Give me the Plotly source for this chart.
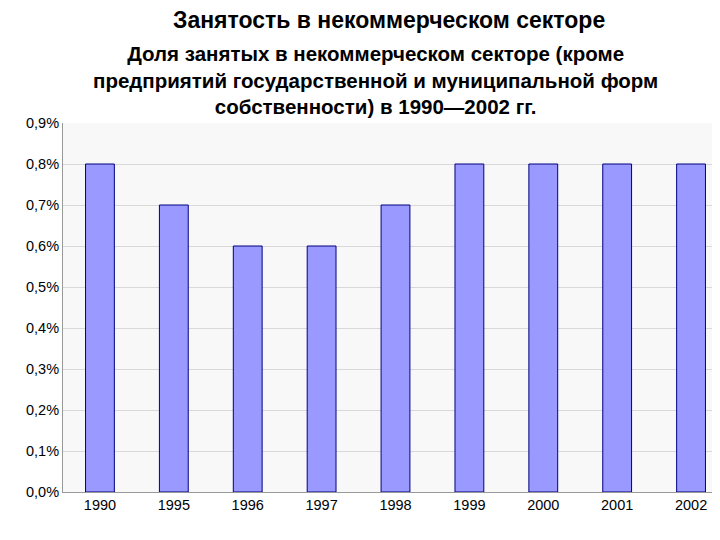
import plotly.graph_objects as go

years = ["1990", "1995", "1996", "1997", "1998", "1999", "2000", "2001", "2002"]
shares = [0.008, 0.007, 0.006, 0.006, 0.007, 0.008, 0.008, 0.008, 0.008]
yticks = [i / 1000 for i in range(10)]
ytext = ["0,0%", "0,1%", "0,2%", "0,3%", "0,4%", "0,5%", "0,6%", "0,7%", "0,8%", "0,9%"]

fig = go.Figure(go.Bar(x=years, y=shares, width=0.39,
                       marker=dict(color="#9999ff", line=dict(color="#000080", width=1))))
fig.update_layout(
    width=720, height=540,
    margin=dict(l=55, r=0, t=115, b=56),
    paper_bgcolor="white", plot_bgcolor="#f8f8f8",
    showlegend=False,
    font=dict(family="Liberation Sans, Arial", color="black"),
    bargap=0.6,
)
fig.add_annotation(text="<b>Занятость в некоммерческом секторе</b>", xref="paper", yref="paper",
                   x=0.49, y=1.0, yshift=103, showarrow=False, font=dict(size=23),
                   xanchor="center", yanchor="middle")
fig.add_annotation(text="<b>Доля занятых в некоммерческом секторе (кроме<br>предприятий государственной и муниципальной форм<br>собственности) в 1990—2002 гг.</b>",
                   xref="paper", yref="paper", x=0.47, y=1.0, yshift=43, showarrow=False,
                   font=dict(size=20.5), xanchor="center", yanchor="middle", align="center")
fig.update_yaxes(range=[0, 0.009], tickvals=yticks, ticktext=ytext, showgrid=True,
                 gridcolor="#d8d8d8", showline=True, linecolor="#999999", ticks="",
                 tickfont=dict(size=14.5), zeroline=False)
fig.update_xaxes(showline=True, linecolor="#999999", tickfont=dict(size=14.5), ticks="")
fig.write_html("out.html")
